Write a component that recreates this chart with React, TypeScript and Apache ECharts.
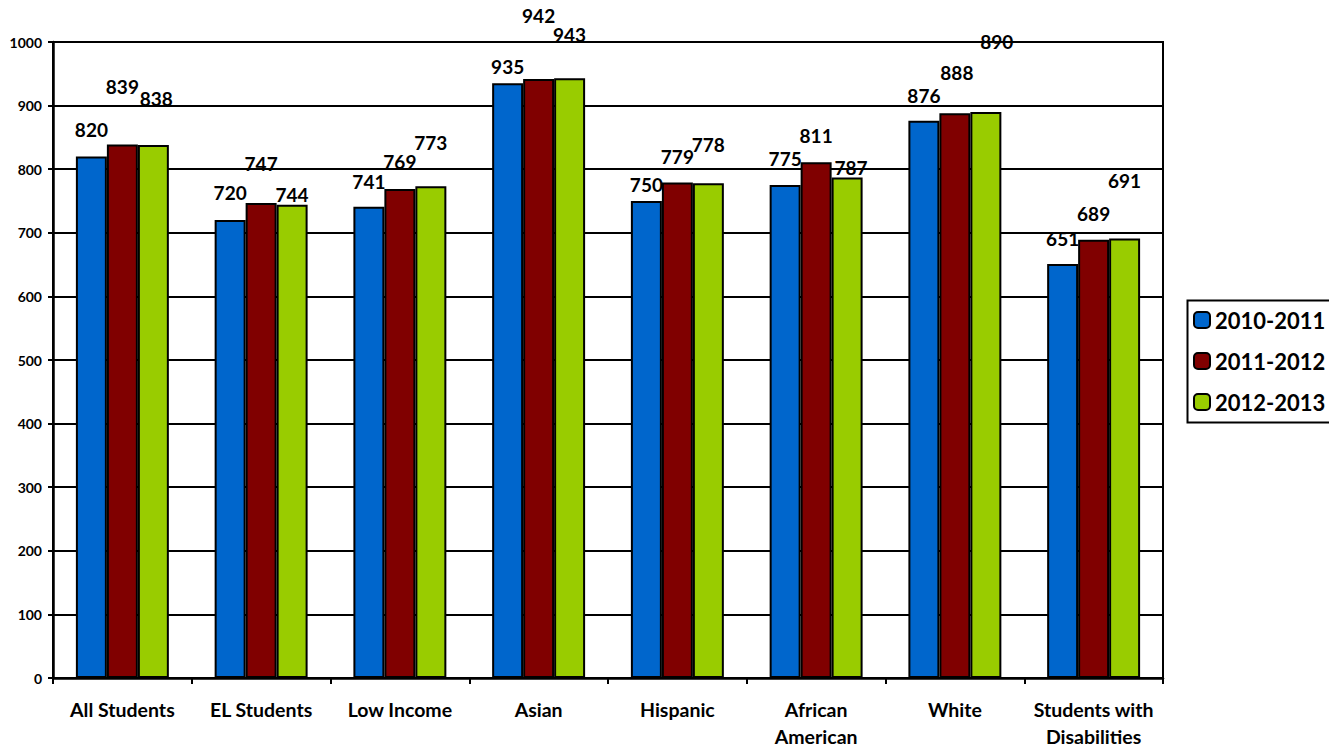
import React, { useEffect, useRef } from "react";
import * as echarts from "echarts";

const categories = [
  "All Students",
  "EL Students",
  "Low Income",
  "Asian",
  "Hispanic",
  "African\nAmerican",
  "White",
  "Students with\nDisabilities",
];
const seriesNames = ["2010-2011", "2011-2012", "2012-2013"];
const values2010 = [820, 720, 741, 935, 750, 775, 876, 651];
const values2011 = [839, 747, 769, 942, 779, 811, 888, 689];
const values2012 = [838, 744, 773, 943, 778, 787, 890, 691];
const yTicks = { min: 0, max: 1000, interval: 100 };

// label placement nudges (px) imitating the original's staggered data labels
const nudgeY2010 = [-18, -19, -17, -8, -8, -18, -17, -17];
const nudgeY2011 = [-49, -31, -19, -55, -18, -18, -32, -18];
const nudgeY2012 = [-38, -2, -35, -35, -30, -1, -62, -50];
const nudgeX2011 = [0, 0, 0, 0, 0, 0, 2, 0];
const nudgeX2012 = [3, 0, 0, 0, 0, 4, 11, 0];
const zeros = [0, 0, 0, 0, 0, 0, 0, 0];

const colors = ["#0066CC", "#800000", "#99CC00"];
const FONT = "Lato";

export default function App() {
  const ref = useRef<HTMLDivElement>(null);
  useEffect(() => {
    if (!ref.current) return;
    const chart = echarts.init(ref.current, undefined, { renderer: "svg" });
    const all = [values2010, values2011, values2012];
    const ny = [nudgeY2010, nudgeY2011, nudgeY2012];
    const nx = [zeros, nudgeX2011, nudgeX2012];
    const series = all.map((vals, s) => ({
      name: seriesNames[s],
      type: "bar",
      barGap: "0%",
      barCategoryGap: "33%",
      itemStyle: { color: colors[s], borderColor: "#000", borderWidth: 2 },
      label: {
        show: true,
        position: "top",
        distance: 0,
        color: "#000",
        fontFamily: FONT,
        fontWeight: "bold",
        fontSize: 19,
        lineHeight: 17,
      },
      data: vals.map((v, i) => ({
        value: v,
        label: { offset: [nx[s][i], ny[s][i]] },
      })),
    }));
    chart.setOption({
      animation: false,
      backgroundColor: "#fff",
      grid: {
        left: 53,
        right: 166,
        top: 42,
        bottom: 72,
        show: true,
        borderColor: "#000",
        borderWidth: 2,
        backgroundColor: "transparent",
      },
      graphic: [
        {
          type: "rect",
          left: 1185,
          top: 298,
          shape: { width: 180, height: 122 },
          style: { fill: "none", stroke: "#000", lineWidth: 2 },
          silent: true,
        },
      ],
      legend: {
        orient: "vertical",
        left: 1185,
        top: 298,
        padding: [11, 0, 9, 8],
        itemWidth: 16,
        itemHeight: 16,
        itemGap: 19,
        borderWidth: 0,
        itemStyle: { borderColor: "#000", borderWidth: 2 },
        textStyle: {
          fontFamily: FONT,
          fontWeight: "bold",
          fontSize: 22,
          lineHeight: 20,
          color: "#000",
        },
        data: seriesNames,
      },
      xAxis: {
        type: "category",
        data: categories,
        boundaryGap: true,
        axisLine: { show: true, lineStyle: { color: "#000", width: 2.5 } },
        axisTick: { show: true, length: 6, lineStyle: { color: "#000", width: 2 } },
        axisLabel: {
          interval: 0,
          margin: 18,
          color: "#000",
          fontFamily: FONT,
          fontWeight: "bold",
          fontSize: 19.5,
          lineHeight: 27,
        },
      },
      yAxis: {
        type: "value",
        min: yTicks.min,
        max: yTicks.max,
        interval: yTicks.interval,
        axisLine: { show: true, lineStyle: { color: "#000", width: 2.5 } },
        axisTick: { show: true, length: 5, lineStyle: { color: "#000", width: 2 } },
        axisLabel: {
          margin: 11,
          color: "#000",
          fontFamily: FONT,
          fontWeight: "bold",
          fontSize: 14,
          formatter: (v: number) => String(v),
        },
        splitLine: { show: true, lineStyle: { color: "#000", width: 2 } },
      },
      series,
    });
    return () => chart.dispose();
  }, []);
  return (
    <div
      ref={ref}
      style={{ position: "fixed", left: 0, top: 0, width: 1329, height: 750, background: "#fff" }}
    />
  );
}
